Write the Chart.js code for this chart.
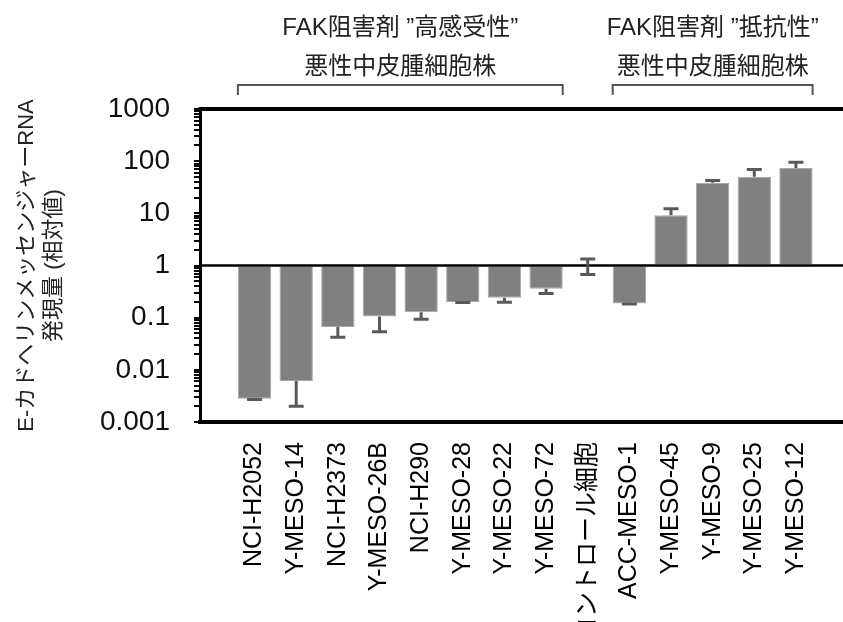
<!DOCTYPE html>
<html>
<head>
<meta charset="utf-8">
<style>
  html, body { margin: 0; padding: 0; background: #fff; }
  canvas { display: block; }
</style>
<script src="https://cdn.jsdelivr.net/npm/chart.js@4/dist/chart.umd.min.js"></script>
</head>
<body>
<canvas id="chart" width="843" height="622"></canvas>
<script>
// Cell lines in plotted order
const cellLines = ['NCI-H2052', 'Y-MESO-14', 'NCI-H2373', 'Y-MESO-26B', 'NCI-H290', 'Y-MESO-28',
  'Y-MESO-22', 'Y-MESO-72', 'コントロール細胞', 'ACC-MESO-1', 'Y-MESO-45', 'Y-MESO-9', 'Y-MESO-25', 'Y-MESO-12'];
// Relative E-cadherin mRNA expression (control = 1)
const expression = [0.0028, 0.0061, 0.066, 0.105, 0.127, 0.20, 0.24, 0.357, 1, 0.187, 9.2, 38.7, 50.4, 73.8];
// Error (SD) of each value
const errors = [0.0001, 0.0041, 0.024, 0.051, 0.034, 0.004, 0.042, 0.067, 0.33, 0.004, 3.0, 4.0, 19, 22];
// Labelled decades on the log axis
const yDecades = [0.001, 0.01, 0.1, 1, 10, 100, 1000];
const yTickLabels = ['0.001', '0.01', '0.1', '1', '10', '100', '1000'];
// Group annotations above the plot
const groupTitles = [['FAK阻害剤 ”高感受性”', '悪性中皮腫細胞株'], ['FAK阻害剤 ”抵抗性”', '悪性中皮腫細胞株']];
const groupFirst = [0, 9];
const groupLast = [7, 13];
const yTitle = ['E-カドヘリンメッセンジャーRNA', '発現量 (相対値)'];

const FONT = "'Liberation Sans', 'Noto Sans CJK JP', sans-serif";

const decorations = {
  id: 'decorations',
  afterDatasetsDraw(chart) {
    const { ctx, chartArea, scales: { y } } = chart;
    const bars = chart.getDatasetMeta(0).data;
    ctx.save();
    // reference line at 1 and top frame
    const y1 = y.getPixelForValue(1);
    ctx.strokeStyle = '#000';
    ctx.lineWidth = 2.5;
    ctx.beginPath();
    ctx.moveTo(chartArea.left, y1);
    ctx.lineTo(chart.width, y1);
    ctx.stroke();
    ctx.lineWidth = 4;
    ctx.beginPath();
    ctx.moveTo(chartArea.left - 1.5, chartArea.top);
    ctx.lineTo(chart.width, chartArea.top);
    ctx.stroke();
    // error bars, pointing away from the baseline
    ctx.strokeStyle = '#595959';
    ctx.lineWidth = 3;
    expression.forEach((v, i) => {
      const bar = bars[i];
      const e = errors[i];
      const ends = v > 1 ? [v + e] : v < 1 ? [v - e] : [v + e, v - e];
      const p0 = y.getPixelForValue(v);
      ends.forEach(end => {
        const py = y.getPixelForValue(end);
        ctx.beginPath();
        ctx.moveTo(bar.x, p0);
        ctx.lineTo(bar.x, py);
        ctx.moveTo(bar.x - 7.5, py);
        ctx.lineTo(bar.x + 7.5, py);
        ctx.stroke();
      });
    });
    ctx.restore();
  },
  afterDraw(chart) {
    const { ctx, chartArea } = chart;
    const bars = chart.getDatasetMeta(0).data;
    ctx.save();
    groupTitles.forEach((lines, g) => {
      const a = bars[groupFirst[g]], b = bars[groupLast[g]];
      const x0 = a.x - a.width / 2, x1 = b.x + b.width / 2;
      const by = chartArea.top - 24;
      ctx.strokeStyle = '#555';
      ctx.lineWidth = 2;
      ctx.beginPath();
      ctx.moveTo(x0, chartArea.top - 14);
      ctx.lineTo(x0, by);
      ctx.lineTo(x1, by);
      ctx.lineTo(x1, chartArea.top - 14);
      ctx.stroke();
      ctx.fillStyle = '#222';
      ctx.font = '24px ' + FONT;
      ctx.textAlign = 'center';
      ctx.textBaseline = 'middle';
      const cx = (x0 + x1) / 2;
      ctx.fillText(lines[0], cx, chartArea.top - 81);
      ctx.fillText(lines[1], cx, chartArea.top - 42);
    });
    ctx.restore();
  }
};

new Chart(document.getElementById('chart'), {
  type: 'bar',
  data: {
    datasets: [{
      data: expression.map((v, i) => ({ x: i, y: v })),
      base: 1,
      backgroundColor: '#808080',
      borderColor: '#a6a6a6',
      borderWidth: 1,
      barPercentage: 0.8,
      categoryPercentage: 1
    }]
  },
  options: {
    responsive: false,
    animation: false,
    devicePixelRatio: 1,
    layout: { padding: { top: 109, left: 0, right: 0, bottom: 0 } },
    plugins: { legend: { display: false }, tooltip: { enabled: false } },
    scales: {
      x: {
        type: 'linear',
        min: -1.31,
        max: 14.13,
        offset: false,
        grid: { display: false, drawTicks: false, offset: false },
        border: { display: true, color: '#000', width: 4 },
        afterBuildTicks(scale) { scale.ticks = cellLines.map((_, i) => ({ value: i })); },
        afterFit(scale) { scale.height = 200; scale.paddingLeft = 0; scale.paddingRight = 0; },
        ticks: {
          autoSkip: false,
          minRotation: 90,
          maxRotation: 90,
          padding: 20,
          color: '#000',
          font: { size: 25, family: FONT },
          callback: v => cellLines[Math.round(v)]
        }
      },
      y: {
        type: 'logarithmic',
        min: 0.001,
        max: 1000,
        grid: { display: true, drawOnChartArea: false, drawTicks: true, tickLength: 6, color: '#000', lineWidth: 2 },
        border: { display: true, color: '#000', width: 3 },
        afterBuildTicks(scale) {
          const t = [];
          yDecades.forEach((d, k) => {
            if (k < yDecades.length - 1) {
              for (let m = 1; m <= 9; m++) t.push({ value: d * m });
            } else {
              t.push({ value: d });
            }
          });
          scale.ticks = t;
        },
        afterFit(scale) { scale.width = 200; scale.paddingTop = 0; scale.paddingBottom = 0; },
        ticks: {
          autoSkip: false,
          padding: 24,
          color: '#111',
          font: { size: 28, family: FONT },
          callback: v => {
            const k = yDecades.findIndex(d => Math.abs(Math.log10(v) - Math.log10(d)) < 1e-6);
            return k >= 0 ? yTickLabels[k] : '';
          }
        },
        title: {
          display: true,
          text: yTitle,
          color: '#222',
          font: { size: 22, family: FONT, lineHeight: 1.2 },
          padding: { top: 14, bottom: 0 }
        }
      }
    }
  },
  plugins: [decorations]
});
</script>
</body>
</html>
